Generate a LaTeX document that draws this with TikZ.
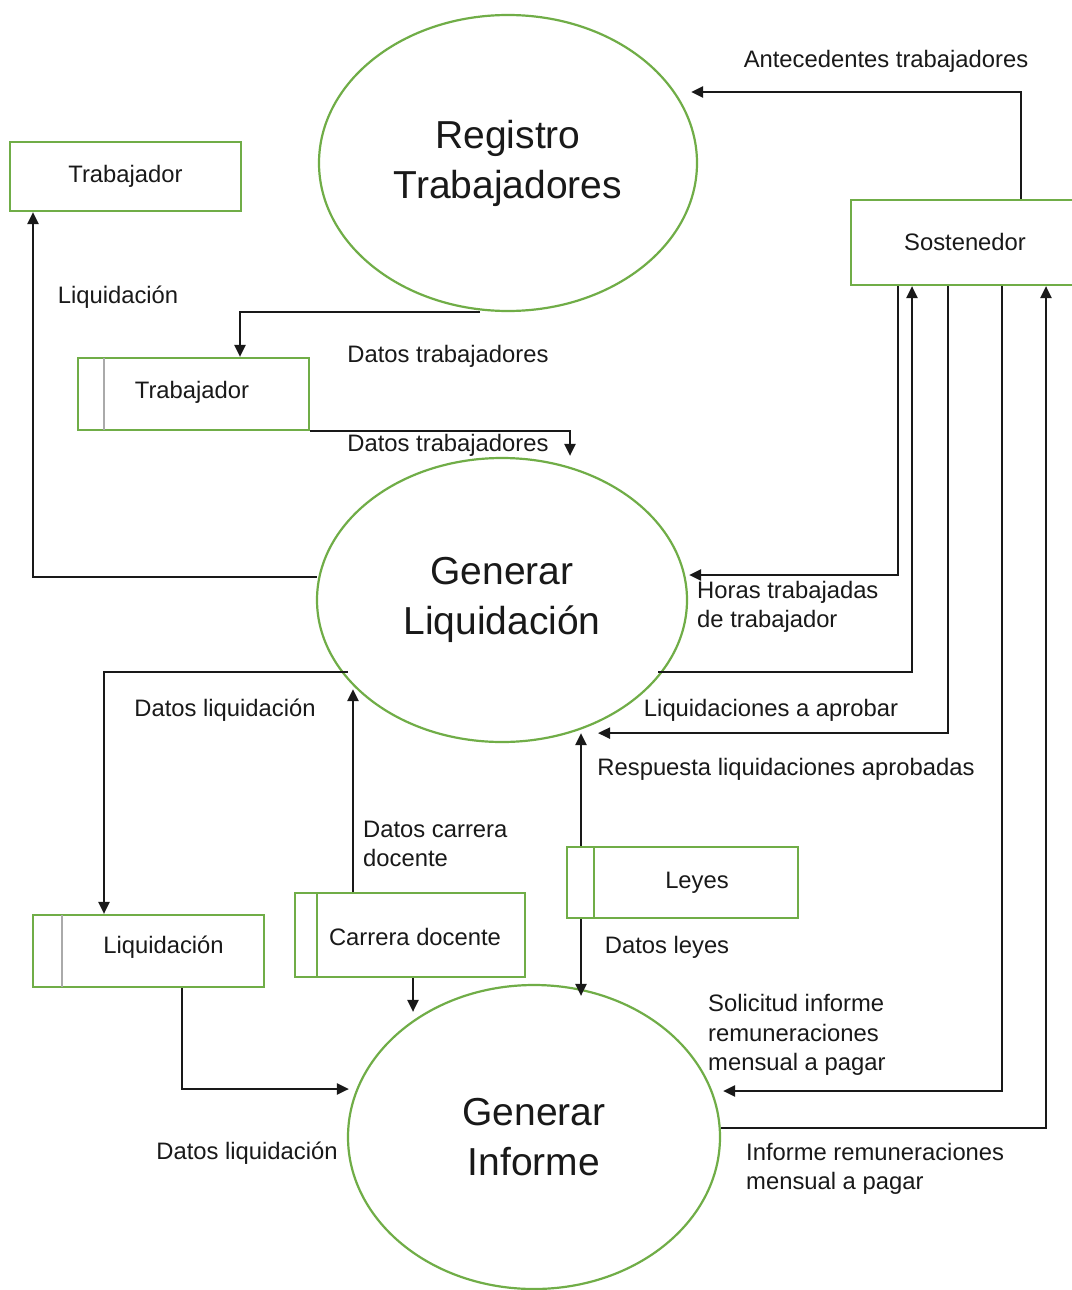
\documentclass[tikz,border=0pt]{standalone}
\usepackage{fontspec}
\setmainfont{Liberation Sans}
\usetikzlibrary{shapes.geometric,arrows.meta,calc}
\definecolor{grn}{RGB}{112,173,71}
\definecolor{ink}{RGB}{25,25,25}
\definecolor{divgray}{RGB}{170,170,170}
\begin{document}
\begin{tikzpicture}[x=1pt,y=-1pt,
  proc/.style={ellipse,draw=grn,line width=2.2pt,inner sep=0pt,align=center,text=ink,font=\fontsize{39}{50}\selectfont},
  ent/.style={rectangle,draw=grn,line width=2.2pt,inner sep=0pt,text=ink,font=\fontsize{23.8}{29.5}\selectfont},
  store/.style={rectangle,draw=grn,line width=2.2pt,inner sep=0pt},
  lbl/.style={text=ink,inner sep=0pt,font=\fontsize{23.8}{29.5}\selectfont},
  lbll/.style={lbl,align=left,anchor=west},
  arr/.style={draw=ink,line width=2.2pt,-{Triangle[length=12pt,width=11pt]}},
  ln/.style={draw=ink,line width=2.2pt}]
\useasboundingbox[fill=white] (0,0) rectangle (1071,1290);

% processes
\node[proc,minimum width=378pt,minimum height=296pt] (reg) at (508,163) {Registro\\Trabajadores};
\node[proc,minimum width=370pt,minimum height=284pt] (gl) at (502,600) {Generar\\Liquidación};
\node[proc,minimum width=372pt,minimum height=304pt] (gi) at (534,1137) {Generar\\Informe};

% external entities
\node[ent,minimum width=231pt,minimum height=69pt] (trab) at (125.5,176.5) {Trabajador};
\node[ent,minimum width=222pt,minimum height=85pt] (sost) at (962,242.5) {};
\node[lbl] (sostt) at (965,242) {Sostenedor};

% data stores
\node[store,minimum width=231pt,minimum height=72pt] (ts) at (193.5,394) {};
\draw[divgray,line width=1.2pt] (104,358) -- (104,430);
\node[lbl] (tst) at (192,392) {Trabajador};

\node[store,minimum width=231pt,minimum height=72pt] (ls) at (148.5,951) {};
\draw[divgray,line width=1.2pt] (62,915) -- (62,987);
\node[lbl] (lst) at (163.5,947) {Liquidación};

\node[store,minimum width=230pt,minimum height=84pt] (cd) at (410,935) {};
\draw[grn,line width=2.2pt] (317,893) -- (317,977);
\node[lbl] (cdt) at (415,937) {Carrera docente};

\node[store,minimum width=231pt,minimum height=71pt] (ley) at (682.5,882.5) {};
\draw[grn,line width=2.2pt] (594,847) -- (594,918);
\node[lbl] (leyt) at (697,883) {Leyes};

% connectors
\draw[arr] ($(sost.north)+(59,0)$) |- ($(reg.east)+(-7,-71)$);
\draw[arr] ($(reg.south)+(-28,0)$) -| ($(ts.north)+(46.5,0)$);
\draw[arr] (ts.south east) -| ($(gl.north)+(68,-1)$);
\draw[arr] ($(gl.west)+(1,-23)$) -| ($(trab.south)+(-92.5,0)$);
\draw[arr] ($(sost.south)+(-64,0)$) |- ($(gl.east)+(1,-25)$);
\draw[arr] ($(gl.east)+(-30,72)$) -| ($(sost.south)+(-50,0)$);
\draw[arr] ($(sost.south)+(-14,0)$) |- ($(gl.south)+(96,-10)$);
\draw[arr] ($(ley.north)+(-101.5,0)$) -- ($(gl.south)+(79,-10)$);
\draw[arr] ($(ley.south)+(-101.5,0)$) -- ($(gi.north)+(47,12)$);
\draw[arr] ($(gl.west)+(32,72)$) -| ($(ls.north)+(-44.5,0)$);
\draw[arr] ($(cd.north)+(-57,0)$) -- ($(gl.south)+(-149,-54)$);
\draw[arr] ($(cd.south)+(3,0)$) -- ($(gi.north)+(-121,28)$);
\draw[arr] ($(ls.south)+(33.5,0)$) |- ($(gi.west)+(2,-48)$);
\draw[arr] ($(sost.south)+(40,0)$) |- ($(gi.east)+(2,-46)$);
\draw[arr] ($(gi.east)+(0,-9)$) -| ($(sost.south)+(84,0)$);

% labels
\node[lbl] (l1) at (886,61) {Antecedentes trabajadores};
\node[lbl] (l2) at (118,297) {Liquidación};
\node[lbl] (l3) at (448,356) {Datos trabajadores};
\node[lbl] (l4) at (448,445) {Datos trabajadores};
\node[lbll] (l5) at (697,607) {Horas trabajadas\\de trabajador};
\node[lbl] (l6) at (771,710) {Liquidaciones a aprobar};
\node[lbl] (l7) at (786,769) {Respuesta liquidaciones aprobadas};
\node[lbl] (l8) at (225,710) {Datos liquidación};
\node[lbll] (l9) at (363,844) {Datos carrera\\docente};
\node[lbl] (l10) at (667,947) {Datos leyes};
\node[lbll] (l11) at (708,1035) {Solicitud informe\\remuneraciones\\mensual a pagar};
\node[lbl] (l12) at (247,1153) {Datos liquidación};
\node[lbll] (l13) at (746,1169) {Informe remuneraciones\\mensual a pagar};
\end{tikzpicture}
\end{document}
